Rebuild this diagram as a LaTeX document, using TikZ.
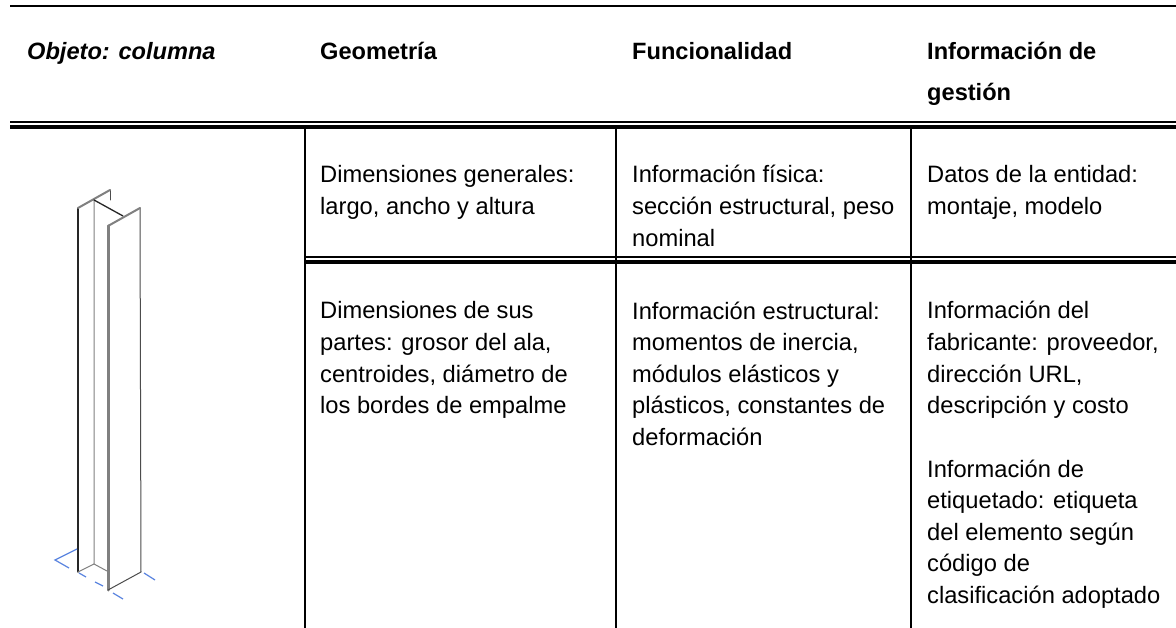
\documentclass[tikz,border=0pt]{standalone}
\usepackage{fontspec}
\setmainfont{Liberation Sans}
\definecolor{dimblue}{HTML}{5B85E0}
\tikzset{
 toprule/.style={line width=2pt,black},
 thinrule/.style={line width=1.7pt,black},
 thickrule/.style={line width=3.4pt,black},
 vrule/.style={line width=1.8pt,black},
 head/.style={font=\fontsize{23.6}{41}\selectfont\bfseries,anchor=base west,align=left,inner sep=0pt},
 cell/.style={font=\fontsize{23.7}{32}\selectfont,anchor=base west,align=left,inner sep=0pt},
 cellb/.style={font=\fontsize{23.7}{31.5}\selectfont,anchor=base west,align=left,inner sep=0pt},
 col/.style={line cap=round,line join=round},
 dim/.style={dimblue,line width=1.2pt},
}
\begin{document}
\begin{tikzpicture}[x=1pt,y=-1pt]
\useasboundingbox (0,0) rectangle (1176,628);
\fill[white] (0,0) rectangle (1176,628);
% rules
\draw[toprule] (10,6) -- (1176,6);
\draw[thinrule] (10,122) -- (1176,122);
\draw[thickrule] (10,127) -- (1176,127);
\draw[thinrule] (305,257) -- (1176,257);
\draw[thickrule] (305,262) -- (1176,262);
\foreach \x in {305,616,911} \draw[vrule] (\x,128) -- (\x,628);
% headers
\node[head] (h1) at (27,60) {\itshape Objeto: columna};
\node[head] (h2) at (320,60) {Geometría};
\node[head] (h3) at (632,60) {Funcionalidad};
\node[head] (h4) at (927,101) {Información de\\gestión};
% cells
\node[cell] (c1) at (320,215) {Dimensiones generales:\\largo, ancho y altura};
\node[cell] (c2) at (632,247) {Información física:\\sección estructural, peso\\nominal};
\node[cell] (c3) at (927,215) {Datos de la entidad:\\montaje, modelo};
\node[cellb] (c4) at (320,413.5) {Dimensiones de sus\\partes: grosor del ala,\\centroides, diámetro de\\los bordes de empalme};
\node[cellb] (c5) at (632,445) {Información estructural:\\momentos de inercia,\\módulos elásticos y\\plásticos, constantes de\\deformación};
\node[cellb] (c6) at (927,413.5) {Información del\\fabricante: proveedor,\\dirección URL,\\descripción y costo};
\node[cellb] (c7) at (927,603) {Información de\\etiquetado: etiqueta\\del elemento según\\código de\\clasificación adoptado};
% column
\begin{scope}[col]
\draw[line width=1.3pt,black!85] (78,208) -- (78,572);
\draw[line width=1pt,gray] (94,200) -- (94,564) -- (78,572);
\draw[line width=1pt,gray] (94,564) -- (107,571);
\draw[line width=1pt,black!70] (110,190) -- (110,200);
\draw[line width=2pt,gray] (78,208) -- (110,190);
\draw[line width=1.3pt,black!85] (94,200) -- (123,216);
\draw[line width=3pt,gray] (108,226) -- (108,590);
\draw[line width=1pt,black!70] (140,208) -- (141,572) -- (108,590);
\draw[line width=2pt,gray] (108,226) -- (140,208);
\end{scope}
\draw[dim] (77,549) -- (55,560) -- (69,568);
\draw[dim] (79,573) -- (86,577);
\draw[dim] (95,582) -- (103,586);
\draw[dim] (113,593) -- (123,599);
\draw[dim] (144,573) -- (155,580);
\end{tikzpicture}
\end{document}
